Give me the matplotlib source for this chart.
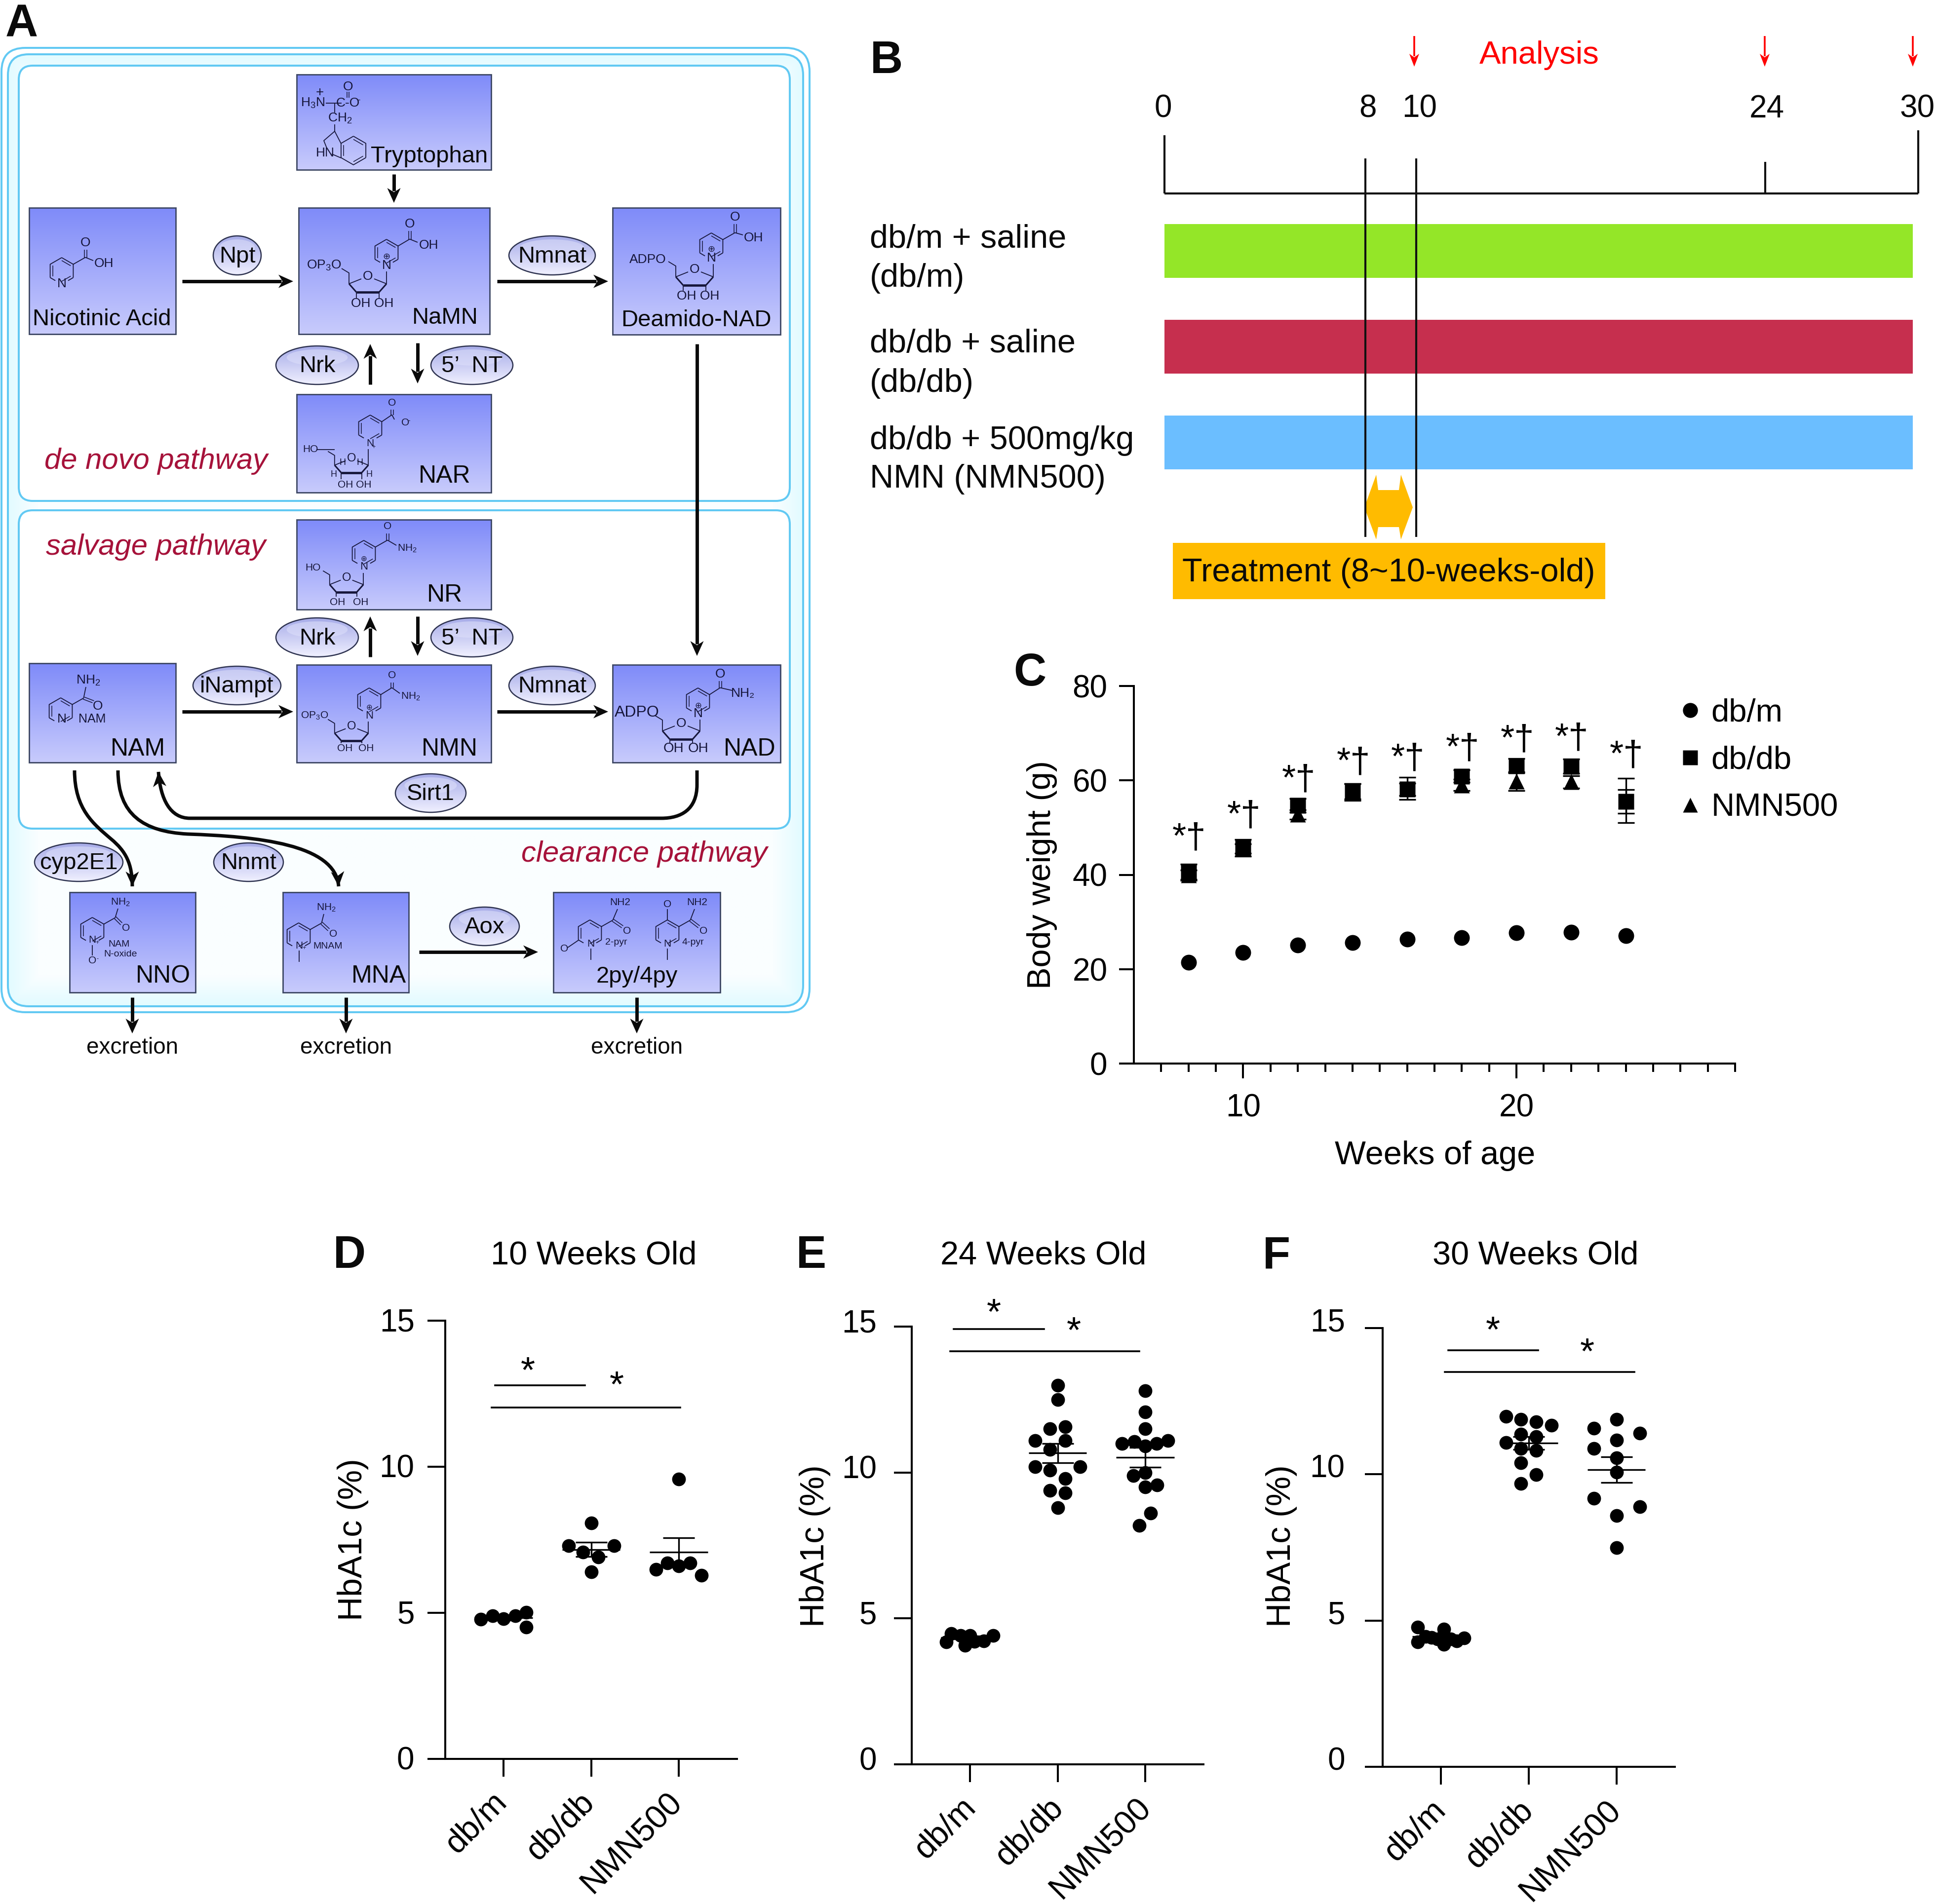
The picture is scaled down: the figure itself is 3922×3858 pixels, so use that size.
import numpy as np
import matplotlib
matplotlib.use("Agg")
import matplotlib.pyplot as plt
from matplotlib.patches import Ellipse, FancyBboxPatch, Polygon, PathPatch, Rectangle
from matplotlib.path import Path
from matplotlib.transforms import ScaledTranslation

plt.rcParams['font.family'] = ['Liberation Sans', 'DejaVu Sans']
plt.rcParams['mathtext.fontset'] = 'custom'
plt.rcParams['mathtext.rm'] = 'Liberation Sans'
plt.rcParams['mathtext.default'] = 'regular'

W, H = 3922, 3858

# panel B
bar_labels = [["db/m + saline", "(db/m)"], ["db/db + saline", "(db/db)"], ["db/db + 500mg/kg", "NMN (NMN500)"]]
bar_colors = ['#94E628', '#C62F4E', '#6BBEFF']
timeline_weeks = [0, 8, 10, 24, 30]

# panel C
weeks = [8, 10, 12, 14, 16, 18, 20, 22, 24]
c_dbm = [21.4, 23.5, 25.1, 25.6, 26.4, 26.7, 27.7, 27.8, 27.1]
c_dbm_err = [0.5, 0.5, 0.5, 0.5, 0.5, 0.5, 0.5, 0.5, 0.5]
c_dbdb = [40.5, 45.7, 54.7, 57.7, 58.1, 60.9, 63.1, 63.0, 55.5]
c_dbdb_err = [1.7, 1.8, 1.5, 1.6, 1.3, 1.3, 1.5, 1.5, 2.5]
c_nmn = [40.0, 45.5, 52.8, 57.5, 58.3, 59.0, 59.8, 59.7, 55.7]
c_nmn_err = [1.0, 1.0, 1.0, 1.8, 2.4, 1.2, 2.0, 1.3, 4.7]
c_sig_y = [47.7, 52.4, 60.0, 63.7, 64.5, 66.6, 68.5, 68.8, 65.2]

# panels D, E, F
groups = ["db/m", "db/db", "NMN500"]

d_x = [[-.258, -.125, 0, .133, .26, .26],
       [0, -.258, .262, -.093, .082, 0],
       [0, -.258, -.129, 0, .129, .258]]
d_y = [[4.78, 4.90, 4.80, 4.90, 5.01, 4.51],
       [8.07, 7.30, 7.30, 7.08, 6.91, 6.40],
       [9.58, 6.49, 6.70, 6.60, 6.70, 6.29]]
d_mean = [4.83, 7.17, 7.08]
d_sem = [0.08, 0.24, 0.48]

e_x = [[-.269, -.214, -.107, 0, -.058, .052, .159, .265],
       [0, 0, -.087, .087, -.255, .087, -.087, -.259, .259, -.087, .087, -.087, .087, 0],
       [0, 0, 0, -.262, -.126, .129, .262, 0, -.133, 0, 0, .133, .061, -.068]]
e_y = [[4.20, 4.48, 4.42, 4.41, 4.07, 4.21, 4.23, 4.42],
       [12.99, 12.49, 11.50, 11.57, 11.09, 11.09, 10.79, 10.19, 10.19, 10.08, 9.79, 9.39, 9.30, 8.80],
       [12.81, 12.07, 11.50, 11.00, 11.06, 11.00, 11.09, 10.91, 9.90, 9.99, 9.51, 9.58, 8.60, 8.19]]
e_mean = [4.35, 10.67, 10.52]
e_sem = [0.05, 0.33, 0.34]

f_x = [[-.263, -.263, -.177, -.109, .031, .031, -.041, .181, .263, .113],
       [-.259, -.089, .082, .256, -.089, .082, -.259, -.089, .082, -.089, .082, -.089],
       [0, -.256, .263, 0, -.256, 0, 0, -.256, .263, 0, 0]]
f_y = [[4.78, 4.27, 4.45, 4.42, 4.70, 4.19, 4.37, 4.30, 4.40, 4.37],
       [11.98, 11.88, 11.79, 11.68, 11.38, 11.28, 11.08, 10.88, 10.81, 10.39, 9.99, 9.68],
       [11.88, 11.58, 11.40, 11.17, 10.88, 10.57, 10.07, 9.18, 8.89, 8.58, 7.49]]
f_mean = [4.45, 11.07, 10.16]
f_sem = [0.06, 0.22, 0.44]

fig = plt.figure(figsize=(W / 100, H / 100), dpi=100)
ax0 = fig.add_axes([0, 0, 1, 1])
ax0.set_xlim(0, W)
ax0.set_ylim(H, 0)
ax0.set_autoscale_on(False)
ax0.axis('off')

INK = '#16163a'


def axes_px(x0, y0, x1, y1):
    a = fig.add_axes([x0 / W, 1 - y1 / H, (x1 - x0) / W, (y1 - y0) / H])
    a.patch.set_alpha(0)
    return a


def txt(x, y, s, size=34, **kw):
    kw.setdefault('ha', 'center')
    kw.setdefault('va', 'center')
    kw.setdefault('color', '#0a0a0a')
    kw.setdefault('zorder', 8)
    ax0.text(x, y + 8, s, fontsize=size, **kw)


def chem(x, y, s, size=19):
    ax0.text(x, y, s, fontsize=size, ha='center', va='center', color=INK, zorder=8)


def line(xs, ys, lw=1.3, color=INK, z=6):
    ax0.plot(xs, ys, color=color, lw=lw, zorder=z, solid_capstyle='butt')


def head(x, y, dx, dy, L=30, W_=27, color='#0a0a0a'):
    n = np.hypot(dx, dy)
    ux, uy = dx / n, dy / n
    px, py = -uy, ux
    pts = [(x, y),
           (x - L * ux + W_ / 2 * px, y - L * uy + W_ / 2 * py),
           (x - .72 * L * ux, y - .72 * L * uy),
           (x - L * ux - W_ / 2 * px, y - L * uy - W_ / 2 * py)]
    ax0.add_patch(Polygon(pts, closed=True, fc=color, ec='none', zorder=7))


def arrow(x0, y0, x1, y1, lw=5.0, L=30, W_=27, color='#0a0a0a'):
    n = np.hypot(x1 - x0, y1 - y0)
    ux, uy = (x1 - x0) / n, (y1 - y0) / n
    ax0.plot([x0, x1 - .8 * L * ux], [y0, y1 - .8 * L * uy], color=color, lw=lw, zorder=7, solid_capstyle='butt')
    head(x1, y1, x1 - x0, y1 - y0, L, W_, color)


def curve(verts, codes, end_dir):
    ax0.add_patch(PathPatch(Path(verts, codes), fc='none', ec='#0a0a0a', lw=5.0, zorder=7, capstyle='butt'))
    head(verts[-1][0], verts[-1][1], end_dir[0], end_dir[1])


def gradient(x0, y0, x1, y1, top, bottom, z=3):
    c0 = np.array(matplotlib.colors.to_rgb(top))
    c1 = np.array(matplotlib.colors.to_rgb(bottom))
    t = np.linspace(0, 1, 200)[:, None, None]
    img = c0[None, None, :] * (1 - t) + c1[None, None, :] * t
    return ax0.imshow(img, extent=(x0, x1, y1, y0), aspect='auto', zorder=z, interpolation='bilinear')


def box(x0, y0, x1, y1):
    gradient(x0, y0, x1, y1, '#7f8bf9', '#c8cbfc')
    ax0.add_patch(Rectangle((x0, y0), x1 - x0, y1 - y0, fc='none', ec='#3c4663', lw=2.0, zorder=4))


def enzyme(x0, y0, x1, y1, s):
    cx, cy = (x0 + x1) / 2, (y0 + y1) / 2
    e = Ellipse((cx, cy), x1 - x0, y1 - y0, fc='none', ec='#2e3350', lw=1.8, zorder=6)
    ax0.add_patch(e)
    im = gradient(x0, y0, x1, y1, '#a6abe8', '#f0f0ff', z=5)
    im.set_clip_path(e)
    ax0.add_patch(Ellipse((cx, cy - .2 * (y1 - y0)), .74 * (x1 - x0), .42 * (y1 - y0), fc='#dfe1fb', ec='none', alpha=.55, zorder=5.5))
    txt(cx, cy - 6, s, 34)


def rounded(x0, y0, x1, y1, r, fc, z):
    p = FancyBboxPatch((x0, y0), x1 - x0, y1 - y0, boxstyle="round,pad=0,rounding_size=%d" % r,
                       fc=fc, ec='#62c9f3', lw=2.9, zorder=z)
    ax0.add_patch(p)
    return p


def glow_fill(x0, y0, x1, y1, clip):
    # soft cyan rim of the clearance region
    gx, gy = np.meshgrid(np.linspace(x0, x1, 400), np.linspace(y0, y1, 500))
    d = np.minimum.reduce([gx - x0, x1 - gx, y1 - gy, gy - y0])
    t = np.clip(d / 60, 0, 1)[:, :, None]
    c0 = np.array(matplotlib.colors.to_rgb('#e2fbff'))
    c1 = np.array(matplotlib.colors.to_rgb('#fafeff'))
    im = ax0.imshow(c0 * (1 - t) + c1 * t, extent=(x0, x1, y1, y0), aspect='auto', zorder=1.6, interpolation='bilinear')
    im.set_clip_path(clip)


def pyridine(cx, cy, r=27, gap=True):
    a = np.radians(np.arange(0, 361, 60))
    x, y = cx + r * np.sin(a), cy - r * np.cos(a)
    line(x[:3], y[:3])
    line(x[4:], y[4:])
    if gap:
        line([x[2], x[2] + .45 * (x[3] - x[2])], [y[2], y[2] + .45 * (y[3] - y[2])])
        line([x[4], x[4] + .45 * (x[3] - x[4])], [y[4], y[4] + .45 * (y[3] - y[4])])
    else:
        line(x[2:5], y[2:5])
    for i in (0, 2, 4):
        b = a[i:i + 2]
        line(cx + .78 * r * np.sin(b), cy - .78 * r * np.cos(b), lw=1.1)
    return x, y


def acid(cx, cy, ox, oy, tx, ty, r=27):
    # ring vertex up to the branch, double bond to the O above, single bond to the tail
    vx, vy = cx + .866 * r, cy - .5 * r
    bx, by = ox, vy - 14
    line([vx, bx], [vy, by])
    line([bx - 2.5, ox - 2.5], [by, oy + 14], lw=1.1)
    line([bx + 2.5, ox + 2.5], [by, oy + 14], lw=1.1)
    line([bx, tx - 22], [by, ty - 6])


def amide(cx, cy, ox, oy, nx, ny, r=27):
    # branch with the NH2 above and the double bonded O to the lower right
    vx, vy = cx + .866 * r, cy - .5 * r
    bx, by = vx + 23, vy - 13
    line([vx, bx], [vy, by])
    line([bx, nx - 5], [by, ny + 13])
    dx, dy = ox - 9 - bx, oy - 9 - by
    line([bx - 1.5, bx + dx - 1.5], [by + 2, by + dy + 2], lw=1.1)
    line([bx + 1.5, bx + dx + 1.5], [by - 2, by + dy - 2], lw=1.1)


def ribose(ox, oy, k=1.0, nx=None, ny=None, sx=None, sy=None, oh_y=None):
    # flattened furanose, ring O on top, thick bond along the bottom
    rx, ry = ox + 38 * k, oy + 15 * k
    brx, bry = ox + 23 * k, oy + 32 * k
    blx, bly = ox - 23 * k, oy + 32 * k
    lx, ly = ox - 38 * k, oy + 15 * k
    line([ox + 13 * k, rx], [oy + 5 * k, ry])
    line([ox - 13 * k, lx], [oy + 5 * k, ly])
    line([rx, brx], [ry, bry], lw=2.2)
    line([lx, blx], [ly, bly], lw=2.2)
    line([blx, brx], [bly, bry], lw=3.4)
    chem(ox, oy, "O", 19 * k)
    if nx is not None:
        line([rx, rx], [ry, ny + 12])
    if sx is not None:
        line([lx, lx, lx - 15 * k], [ly, ly - 22 * k, ly - 31 * k])
    if oh_y is not None:
        line([blx, blx], [bly, oh_y - 11])
        line([brx, brx], [bry, oh_y - 11])


# panel A frames
rounded(3, 97, 1640, 2051, 48, 'white', 1)
frame = rounded(16, 110, 1627, 2039, 42, 'none', 1.7)
glow_fill(16, 110, 1627, 2039, frame)
rounded(38, 133, 1600, 1015, 28, 'white', 2)
rounded(38, 1034, 1600, 1679, 28, 'white', 2)

box(601, 151, 995, 344)
box(59, 421, 356, 677)
box(605, 421, 992, 677)
box(1241, 421, 1581, 678)
box(601, 799, 995, 998)
box(601, 1053, 995, 1235)
box(59, 1344, 356, 1545)
box(601, 1347, 995, 1545)
box(1241, 1347, 1581, 1545)
box(141, 1808, 396, 2011)
box(573, 1808, 828, 2011)
box(1121, 1808, 1459, 2011)

# tryptophan
chem(634, 209, r"H$_3$N")
chem(648, 188, "+", 20)
chem(705, 209, "C-O")
chem(727, 203, "-", 12)
chem(705, 176, "O")
line([703, 703], [186, 198], lw=1.1)
line([707, 707], [186, 198], lw=1.1)
line([660, 692], [209, 209])
line([678, 678], [209, 228])
chem(689, 240, r"CH$_2$")
line([678, 678], [252, 266])
pyridine(716, 305, 29, gap=False)
ax0.plot([678, 656, 662], [266, 285, 300], color=INK, lw=1.3, zorder=6)
line([678, 691], [266, 291])
line([672, 691], [312, 320])
chem(659, 310, "HN")
txt(870, 309, "Tryptophan", 34)

# nicotinic acid
pyridine(125, 549)
acid(125, 549, 173, 492, 211, 534)
chem(173, 492, "O")
chem(211, 534, "OH")
chem(125, 575, "N")
txt(206, 639, "Nicotinic Acid", 34)

# NaMN
pyridine(783, 512)
acid(783, 512, 830, 454, 868, 497)
chem(830, 454, "O")
chem(868, 497, "OH")
chem(783, 538, "N")
chem(783, 520, "⊕", 13)
ribose(745, 560, 1, 783, 538, 656, 538, 615)
chem(656, 538, r"OP$_3$O")
chem(754, 615, "OH OH")
txt(901, 636, "NaMN", 34)

# Deamido-NAD
pyridine(1441, 499)
acid(1441, 499, 1489, 440, 1527, 482)
chem(1489, 440, "O")
chem(1527, 482, "OH")
chem(1441, 523, "N")
chem(1441, 505, "⊕", 13)
ribose(1407, 546, 1, 1441, 523, 1312, 526, 600)
chem(1312, 526, "ADPO")
chem(1414, 600, "OH OH")
txt(1410, 641, "Deamido-NAD", 34)

# NAR
pyridine(750, 868)
acid(750, 868, 794, 816, 821, 856)
chem(794, 816, "O", 15)
chem(821, 856, "O", 15)
chem(829, 852, "-", 10)
chem(750, 898, "N", 15)
chem(757, 906, "+", 9)
ribose(712, 929, .9, 750, 898, 629, 911, 982)
line([641, 678], [911, 911])
chem(629, 911, "HO", 15)
chem(718, 982, "OH OH", 15)
chem(694, 938, "H", 13)
chem(729, 938, "H", 13)
chem(676, 962, "H", 13)
chem(748, 962, "H", 13)
txt(901, 957, "NAR", 36)

# NR
pyridine(737, 1122)
acid(737, 1122, 785, 1067, 825, 1111)
chem(785, 1067, "O", 15)
chem(825, 1111, r"NH$_2$", 15)
chem(737, 1149, "N", 16)
chem(737, 1133, "⊕", 11)
ribose(702, 1171, .9, 737, 1149, 634, 1150, 1220)
chem(634, 1150, "HO", 15)
chem(684, 1220, "OH", 15)
chem(731, 1220, "OH", 15)
txt(901, 1198, "NR", 36)

# NMN
pyridine(748, 1421)
acid(748, 1421, 794, 1369, 832, 1411)
chem(794, 1369, "O", 15)
chem(832, 1411, r"NH$_2$", 15)
chem(748, 1450, "N", 16)
chem(748, 1434, "⊕", 11)
ribose(712, 1472, .9, 748, 1450, 637, 1450, 1517)
chem(637, 1450, r"OP$_3$O", 15)
chem(699, 1517, "OH", 15)
chem(742, 1517, "OH", 15)
txt(911, 1510, "NMN", 36)

# NAD
pyridine(1414, 1421)
acid(1414, 1421, 1459, 1366, 1505, 1405)
chem(1459, 1366, "O")
chem(1505, 1405, "NH₂")
chem(1414, 1446, "N")
chem(1414, 1430, "⊕", 12)
ribose(1380, 1466, 1, 1414, 1446, 1290, 1444, 1517)
chem(1290, 1444, "ADPO", 23)
chem(1364, 1517, "OH", 20)
chem(1414, 1517, "OH", 20)
txt(1519, 1510, "NAD", 36)

# NAM
pyridine(123, 1441)
amide(123, 1441, 198, 1431, 179, 1379)
chem(179, 1379, r"NH$_2$")
chem(198, 1431, "O")
chem(125, 1457, "N")
chem(187, 1457, "NAM", 18)
txt(279, 1510, "NAM", 36)

# NNO
pyridine(187, 1886)
amide(187, 1886, 255, 1881, 244, 1828)
chem(244, 1828, r"NH$_2$", 15)
chem(255, 1881, "O", 15)
chem(187, 1905, "N", 15)
chem(197, 1910, "+", 9)
line([187, 187], [1915, 1936])
chem(187, 1947, "O", 15)
chem(197, 1943, "-", 9)
chem(241, 1914, "NAM", 14)
chem(244, 1933, "N-oxide", 14)
txt(330, 1970, "NNO", 36)

# MNA
pyridine(605, 1897)
amide(605, 1897, 675, 1893, 661, 1839)
chem(661, 1839, r"NH$_2$", 15)
chem(675, 1893, "O", 15)
chem(606, 1916, "N", 15)
chem(616, 1921, "+", 9)
line([606, 606], [1926, 1949])
chem(664, 1918, "MNAM", 14)
txt(767, 1970, "MNA", 36)

# 2py / 4py
pyridine(1195, 1891)
amide(1195, 1891, 1270, 1887, 1256, 1829)
chem(1256, 1829, "NH2", 15)
chem(1270, 1887, "O", 15)
chem(1143, 1923, "O", 15)
line([1150, 1172], [1920, 1905])
chem(1197, 1912, "N", 15)
line([1197, 1197], [1922, 1945])
chem(1248, 1910, "2-pyr", 14)
pyridine(1352, 1891)
amide(1352, 1891, 1425, 1887, 1412, 1829)
chem(1412, 1829, "NH2", 15)
chem(1425, 1887, "O", 15)
chem(1352, 1832, "O", 15)
line([1352, 1352], [1842, 1864])
chem(1352, 1912, "N", 15)
line([1352, 1352], [1922, 1945])
chem(1404, 1910, "4-pyr", 14)
txt(1290, 1971, "2py/4py", 34)

enzyme(432, 478, 529, 557, "Npt")
enzyme(1031, 478, 1206, 557, "Nmnat")
enzyme(559, 701, 726, 779, "Nrk")
enzyme(873, 701, 1039, 779, "5’  NT")
enzyme(559, 1252, 726, 1331, "Nrk")
enzyme(873, 1252, 1039, 1331, "5’  NT")
enzyme(391, 1350, 569, 1428, "iNampt")
enzyme(1031, 1350, 1206, 1428, "Nmnat")
enzyme(801, 1568, 944, 1646, "Sirt1")
enzyme(70, 1708, 249, 1786, "cyp2E1")
enzyme(433, 1708, 574, 1786, "Nnmt")
enzyme(911, 1838, 1052, 1916, "Aox")

arrow(798, 353, 798, 411)
arrow(369, 570, 594, 570)
arrow(1007, 570, 1232, 570)
arrow(750, 779, 750, 697)
arrow(846, 695, 846, 777)
arrow(1412, 697, 1412, 1329)
arrow(750, 1331, 750, 1249)
arrow(846, 1249, 846, 1329)
arrow(369, 1442, 594, 1442)
arrow(1007, 1442, 1232, 1442)
arrow(849, 1929, 1090, 1929)
for x in (268, 701, 1290):
    arrow(x, 2021, x, 2094)
    txt(x, 2115, "excretion", 33)

C4 = Path.CURVE4
curve([(1412, 1561), (1412, 1590), (1412, 1640), (1380, 1658), (1340, 1658), (385, 1658), (345, 1658), (325, 1620), (321, 1564)],
      [Path.MOVETO, Path.LINETO, C4, C4, C4, Path.LINETO, C4, C4, C4], (-1, -12))
curve([(151, 1561), (151, 1640), (190, 1670), (225, 1700), (255, 1725), (268, 1750), (268, 1796)],
      [Path.MOVETO, C4, C4, C4, C4, C4, C4], (0, 1))
curve([(239, 1561), (239, 1650), (290, 1685), (380, 1690), (520, 1695), (680, 1710), (686, 1796)],
      [Path.MOVETO, C4, C4, C4, C4, C4, C4], (1, 14))

txt(316, 926, "de novo pathway", 43, style='italic', color='#a6123a')
txt(316, 1101, "salvage pathway", 43, style='italic', color='#a6123a')
txt(1305, 1723, "clearance pathway", 43, style='italic', color='#a6123a')

for s, x, y in [("A", 44, 42), ("B", 1796, 116), ("C", 2086, 1357), ("D", 708, 2537), ("E", 1643, 2537), ("F", 2586, 2537)]:
    txt(x, y, s, 66, fontweight='bold')


# panel B
def week_x(w):
    return 2359 + w * (3886 - 2359) / 30


for (top, bottom), c in zip([(454, 563), (648, 757), (842, 951)], bar_colors):
    ax0.add_patch(Rectangle((2359, top), 3875 - 2359, bottom - top, fc=c, ec='none', zorder=2))
for labels, ys in zip(bar_labels, [(477, 556), (689, 769), (885, 963)]):
    for s, y in zip(labels, ys):
        txt(1762, y, s, 48, ha='left')

line([2359, 3886], [392, 392], lw=3, color='#111111')
for w, top, tick_dx in zip(timeline_weeks, [274, 321, 321, 328, 264], [0, 0, 1, -5, 0]):
    bottom = 1088 if w in (8, 10) else 392
    line([week_x(w) + tick_dx] * 2, [top, bottom], lw=3, color='#111111')
for w, dx in zip(timeline_weeks, [-3, 5, 8, -1, -2]):
    txt(week_x(w) + dx, 213, str(w), 46)

txt(3118, 104, "Analysis", 47, color='#ff0000')
for x in (2865, 3575, 3875):
    arrow(x, 73, x, 135, lw=2.6, L=26, W_=20, color='#ff0000')

ax0.add_patch(Polygon([(2764, 1028), (2788, 962), (2792, 993), (2834, 993), (2838, 962), (2862, 1028),
                       (2838, 1093), (2834, 1068), (2792, 1068), (2788, 1093)], closed=True, fc='#FFBB00', ec='none', zorder=3))
ax0.add_patch(Rectangle((2376, 1100), 3252 - 2376, 1214 - 1100, fc='#FFBB00', ec='none', zorder=3))
txt(2813, 1153, "Treatment (8~10-weeks-old)", 48)

# panel C
ax = axes_px(2297, 1390, 3515, 2155)
ax.set_xlim(6, 28)
ax.set_ylim(0, 80)
ms = 23
ax.errorbar(weeks, c_nmn, yerr=c_nmn_err, fmt='none', ecolor='k', elinewidth=2.4, capsize=12, capthick=2.4, zorder=3)
ax.errorbar(weeks, c_dbdb, yerr=c_dbdb_err, fmt='none', ecolor='k', elinewidth=2.4, capsize=12, capthick=2.4, zorder=3)
ax.errorbar(weeks, c_dbm, yerr=c_dbm_err, fmt='none', ecolor='k', elinewidth=2.4, capsize=8, capthick=2.4, zorder=3)
ax.plot(weeks, c_dbm, 'o', color='k', ms=ms, mec='none', label='db/m', zorder=4)
ax.plot(weeks, c_dbdb, 's', color='k', ms=ms, mec='none', label='db/db', zorder=5)
ax.plot(weeks, c_nmn, '^', color='k', ms=ms, mec='none', label='NMN500', zorder=4)
for w, y in zip(weeks, c_sig_y):
    ax.text(w + .03, y, "*†", fontsize=52, ha='center', va='center', clip_on=False)
ax.set_xticks([10, 20])
ax.set_xticks(np.arange(7, 29), minor=True)
ax.set_yticks([0, 20, 40, 60, 80])
ax.tick_params(axis='x', which='major', length=21.6, width=2.9, labelsize=46, pad=22)
ax.tick_params(axis='x', which='minor', length=12, width=2.9)
ax.tick_params(axis='y', length=21.6, width=2.9, labelsize=46, pad=17)
ax.spines[['top', 'right']].set_visible(False)
ax.spines[['left', 'bottom']].set_linewidth(2.9)
ax0.text(2111, 1773, "Body weight (g)", fontsize=48, rotation=90, ha='center', va='center')
ax0.text(2907, 2342, "Weeks of age", fontsize=48, ha='center', va='center')
ax.legend(loc='center left', bbox_to_anchor=(3372, 1541), bbox_transform=ax0.transData, frameon=False,
          fontsize=47, numpoints=1, handlelength=.6, handletextpad=.35, labelspacing=.55, borderpad=0, markerscale=.95)


# panels D, E, F
def dot_panel(box_px, xs, ys, means, sems, title, title_x, ylab_x, ylab_y, lines, stars, ypad, ylab_dy, xlab_dx):
    a = axes_px(*box_px)
    a.set_xlim(.335, 3.665)
    a.set_ylim(0, 15)
    for i in range(3):
        a.scatter(np.array(xs[i]) + i + 1, ys[i], s=20 ** 2, color='k', linewidths=0, zorder=3, clip_on=False)
        a.hlines(means[i], i + 1 - .33, i + 1 + .33, color='k', lw=2.4, zorder=4)
        a.errorbar(i + 1, means[i], yerr=sems[i], fmt='none', ecolor='k', elinewidth=2.4, capsize=23, capthick=2.4, zorder=4)
    for x0, x1, y in lines:
        a.plot([x0, x1], [y, y], color='k', lw=2.6, clip_on=False)
    for x, y in stars:
        a.text(x, y, "*", fontsize=54, ha='center', va='center', clip_on=False)
    a.set_xticks([1, 2, 3])
    a.set_xticklabels(groups, rotation=45, ha='right', va='top', rotation_mode='anchor')
    a.set_yticks([0, 5, 10, 15])
    a.tick_params(axis='x', length=26, width=2.9, labelsize=47.5, pad=15)
    a.tick_params(axis='y', length=26, width=2.9, labelsize=46, pad=ypad)
    a.spines[['top', 'right']].set_visible(False)
    a.spines[['left', 'bottom']].set_linewidth(2.9)
    for lab in a.get_yticklabels():
        lab.set_transform(lab.get_transform() + ScaledTranslation(0, ylab_dy / 100, fig.dpi_scale_trans))
    for lab in a.get_xticklabels():
        lab.set_transform(lab.get_transform() + ScaledTranslation(xlab_dx / 100, 0, fig.dpi_scale_trans))
    ax0.text(title_x, 2544, title, fontsize=48, ha='center', va='center')
    ax0.text(ylab_x, ylab_y, "HbA1c (%)", fontsize=49, rotation=90, ha='center', va='center')


dot_panel((902, 2676, 1493, 3564), d_x, d_y, d_mean, d_sem, "10 Weeks Old", 1203, 715, 3120,
          [(.903, 1.928, 12.78), (.864, 3.018, 12.03)], [(1.28, 13.22), (2.294, 12.73)], 19, 2, -25)
dot_panel((1847, 2688, 2438, 3575), e_x, e_y, e_mean, e_sem, "24 Weeks Old", 2114, 1651, 3133,
          [(.816, 1.845, 14.91), (.777, 2.935, 14.15)], [(1.275, 15.42), (2.184, 14.79)], 25, 12, -20)
dot_panel((2801, 2691, 3393, 3580), f_x, f_y, f_mean, f_sem, "30 Weeks Old", 3111, 2596, 3133,
          [(1.082, 2.109, 14.24), (1.041, 3.205, 13.49)], [(1.594, 14.85), (2.666, 14.11)], 29, 17, -22)

fig.savefig("out.png", dpi=100)
